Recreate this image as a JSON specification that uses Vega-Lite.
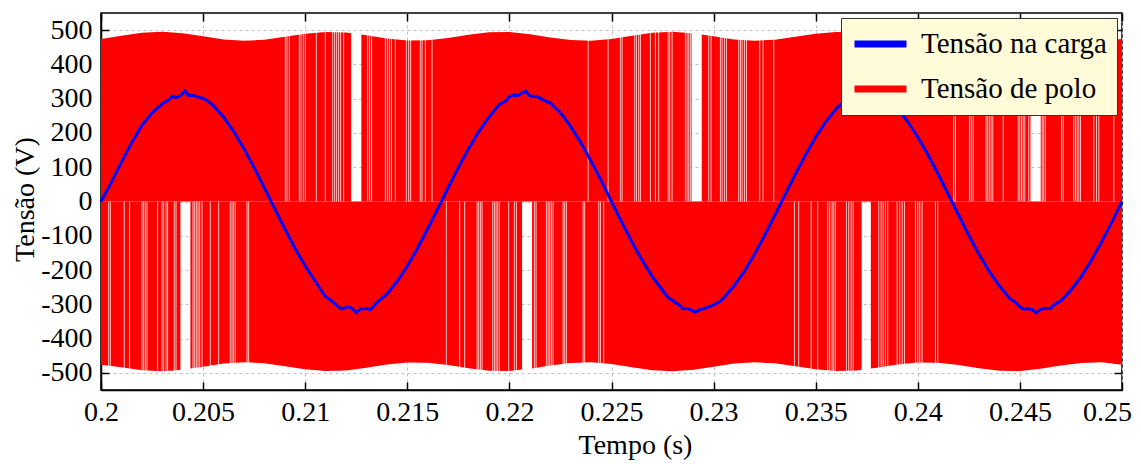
{
  "$schema": "https://vega.github.io/schema/vega-lite/v6.json",
  "width": 1021,
  "height": 377,
  "autosize": {"type": "none"},
  "padding": {"left": 101, "top": 13, "right": 19, "bottom": 74},
  "background": "white",
  "config": {
    "font": "Liberation Serif",
    "view": {"stroke": "black", "strokeWidth": 1.5},
    "axis": {
      "labelFont": "Liberation Serif", "titleFont": "Liberation Serif", "titleFontWeight": "normal",
      "labelFontSize": 28, "titleFontSize": 28, "labelColor": "black", "titleColor": "black",
      "domainColor": "black", "tickColor": "black", "domainWidth": 1.5, "tickWidth": 1.5,
      "gridDash": [3, 3], "gridColor": "#c0c0c0", "gridWidth": 1, "labelFlush": false, "labelOverlap": false
    }
  },
  "datasets": {
    "pole": [
      {"t":0.200,"v":474.5,"seg":"T1"},{"t":0.201,"v":483.8,"seg":"T1"},{"t":0.202,"v":492.1,"seg":"T1"},{"t":0.203,"v":495.0,"seg":"T1"},{"t":0.204,"v":490.8,"seg":"T1"},{"t":0.205,"v":481.8,"seg":"T1"},{"t":0.206,"v":473.0,"seg":"T1"},{"t":0.207,"v":469.0,"seg":"T1"},{"t":0.208,"v":472.1,"seg":"T1"},{"t":0.209,"v":480.5,"seg":"T1"},{"t":0.210,"v":489.8,"seg":"T1"},{"t":0.211,"v":494.8,"seg":"T1"},{"t":0.212,"v":492.9,"seg":"T1"},{"t":0.21225,"v":490.9,"seg":"T1"},
      {"t":0.21275,"v":487.0,"seg":"T2"},{"t":0.213,"v":485.1,"seg":"T2"},{"t":0.214,"v":475.6,"seg":"T2"},{"t":0.215,"v":469.6,"seg":"T2"},{"t":0.216,"v":470.3,"seg":"T2"},{"t":0.217,"v":477.4,"seg":"T2"},{"t":0.218,"v":486.9,"seg":"T2"},{"t":0.219,"v":493.8,"seg":"T2"},{"t":0.220,"v":494.3,"seg":"T2"},{"t":0.221,"v":488.1,"seg":"T2"},{"t":0.222,"v":478.6,"seg":"T2"},{"t":0.223,"v":470.9,"seg":"T2"},{"t":0.224,"v":469.3,"seg":"T2"},{"t":0.225,"v":474.5,"seg":"T2"},{"t":0.226,"v":483.8,"seg":"T2"},{"t":0.227,"v":492.1,"seg":"T2"},{"t":0.228,"v":495.0,"seg":"T2"},{"t":0.22892,"v":491.1,"seg":"T2"},
      {"t":0.22942,"v":487.0,"seg":"T3"},{"t":0.230,"v":481.8,"seg":"T3"},{"t":0.231,"v":473.0,"seg":"T3"},{"t":0.232,"v":469.0,"seg":"T3"},{"t":0.233,"v":472.1,"seg":"T3"},{"t":0.234,"v":480.5,"seg":"T3"},{"t":0.235,"v":489.8,"seg":"T3"},{"t":0.236,"v":494.8,"seg":"T3"},{"t":0.237,"v":492.9,"seg":"T3"},{"t":0.238,"v":485.1,"seg":"T3"},{"t":0.239,"v":475.6,"seg":"T3"},{"t":0.240,"v":469.6,"seg":"T3"},{"t":0.241,"v":470.3,"seg":"T3"},{"t":0.242,"v":477.4,"seg":"T3"},{"t":0.243,"v":486.9,"seg":"T3"},{"t":0.244,"v":493.8,"seg":"T3"},{"t":0.245,"v":494.3,"seg":"T3"},{"t":0.24552,"v":491.1,"seg":"T3"},
      {"t":0.24602,"v":487.7,"seg":"T4"},{"t":0.247,"v":478.6,"seg":"T4"},{"t":0.248,"v":470.9,"seg":"T4"},{"t":0.249,"v":469.3,"seg":"T4"},{"t":0.250,"v":474.5,"seg":"T4"},
      {"t":0.200,"v":-476.5,"seg":"B1"},{"t":0.201,"v":-483.8,"seg":"B1"},{"t":0.202,"v":-492.1,"seg":"B1"},{"t":0.203,"v":-495.0,"seg":"B1"},{"t":0.20389,"v":-491.3,"seg":"B1"},
      {"t":0.20438,"v":-487.4,"seg":"B2"},{"t":0.205,"v":-481.8,"seg":"B2"},{"t":0.206,"v":-473.0,"seg":"B2"},{"t":0.207,"v":-469.0,"seg":"B2"},{"t":0.208,"v":-472.1,"seg":"B2"},{"t":0.209,"v":-480.5,"seg":"B2"},{"t":0.210,"v":-489.8,"seg":"B2"},{"t":0.211,"v":-494.8,"seg":"B2"},{"t":0.212,"v":-492.9,"seg":"B2"},{"t":0.213,"v":-485.1,"seg":"B2"},{"t":0.214,"v":-475.6,"seg":"B2"},{"t":0.215,"v":-469.6,"seg":"B2"},{"t":0.216,"v":-470.3,"seg":"B2"},{"t":0.217,"v":-477.4,"seg":"B2"},{"t":0.218,"v":-486.9,"seg":"B2"},{"t":0.219,"v":-493.8,"seg":"B2"},{"t":0.220,"v":-494.3,"seg":"B2"},{"t":0.22062,"v":-490.5,"seg":"B2"},
      {"t":0.22111,"v":-487.1,"seg":"B3"},{"t":0.222,"v":-478.6,"seg":"B3"},{"t":0.223,"v":-470.9,"seg":"B3"},{"t":0.224,"v":-469.3,"seg":"B3"},{"t":0.225,"v":-474.5,"seg":"B3"},{"t":0.226,"v":-483.8,"seg":"B3"},{"t":0.227,"v":-492.1,"seg":"B3"},{"t":0.228,"v":-495.0,"seg":"B3"},{"t":0.229,"v":-490.8,"seg":"B3"},{"t":0.230,"v":-481.8,"seg":"B3"},{"t":0.231,"v":-473.0,"seg":"B3"},{"t":0.232,"v":-469.0,"seg":"B3"},{"t":0.233,"v":-472.1,"seg":"B3"},{"t":0.234,"v":-480.5,"seg":"B3"},{"t":0.235,"v":-489.8,"seg":"B3"},{"t":0.236,"v":-494.8,"seg":"B3"},{"t":0.237,"v":-492.9,"seg":"B3"},{"t":0.23725,"v":-490.9,"seg":"B3"},
      {"t":0.2377,"v":-487.4,"seg":"B4"},{"t":0.238,"v":-485.1,"seg":"B4"},{"t":0.239,"v":-475.6,"seg":"B4"},{"t":0.240,"v":-469.6,"seg":"B4"},{"t":0.241,"v":-470.3,"seg":"B4"},{"t":0.242,"v":-477.4,"seg":"B4"},{"t":0.243,"v":-486.9,"seg":"B4"},{"t":0.244,"v":-493.8,"seg":"B4"},{"t":0.245,"v":-494.3,"seg":"B4"},{"t":0.246,"v":-488.1,"seg":"B4"},{"t":0.247,"v":-478.6,"seg":"B4"},{"t":0.248,"v":-470.9,"seg":"B4"},{"t":0.249,"v":-469.3,"seg":"B4"},{"t":0.250,"v":-476.5,"seg":"B4"}
    ],
    "topLines": [
      {"t":0.209027},{"t":0.20911},{"t":0.209223},{"t":0.209713},{"t":0.209796},{"t":0.209909},{"t":0.210007},{"t":0.210546},{"t":0.210986},{"t":0.211344},{"t":0.211442},{"t":0.21154},{"t":0.211638},{"t":0.211736},{"t":0.211883},{"t":0.213058},{"t":0.213156},{"t":0.213254},{"t":0.213925},{"t":0.214023},{"t":0.214121},{"t":0.214219},{"t":0.214415},{"t":0.214954},{"t":0.215067},{"t":0.215165},{"t":0.21564},{"t":0.215723},{"t":0.215885},{"t":0.216213},
      {"t":0.223854},{"t":0.224833},{"t":0.225436},{"t":0.225519},{"t":0.226136},{"t":0.22622},{"t":0.226332},{"t":0.226416},{"t":0.226905},{"t":0.22715},{"t":0.227312},{"t":0.227772},{"t":0.227851},{"t":0.227968},{"t":0.22862},{"t":0.228703},{"t":0.228781},{"t":0.228865},{"t":0.229761},{"t":0.229878},{"t":0.230334},{"t":0.230417},{"t":0.23053},{"t":0.230628},{"t":0.23123},{"t":0.231314},{"t":0.231397},{"t":0.23151},{"t":0.231608},{"t":0.232259},{"t":0.232425},{"t":0.232945},
      {"t":0.241761},{"t":0.241844},{"t":0.24253},{"t":0.242613},{"t":0.242711},{"t":0.243348},{"t":0.243427},{"t":0.24351},{"t":0.243593},{"t":0.243672},{"t":0.244181},{"t":0.244916},{"t":0.244994},{"t":0.245077},{"t":0.245161},{"t":0.245239},{"t":0.245435},{"t":0.246091},{"t":0.246169},{"t":0.246253},{"t":0.247036},{"t":0.24712},{"t":0.247639},{"t":0.247722},{"t":0.247806},{"t":0.247884},{"t":0.247967},{"t":0.248619},{"t":0.248751},{"t":0.248864},{"t":0.249598}
    ],
    "botLines": [
      {"t":0.200372},{"t":0.200456},{"t":0.201141},{"t":0.201401},{"t":0.202008},{"t":0.202087},{"t":0.20217},{"t":0.202253},{"t":0.202772},{"t":0.202988},{"t":0.203066},{"t":0.203184},{"t":0.203262},{"t":0.20359},{"t":0.203674},{"t":0.204506},{"t":0.204585},{"t":0.204668},{"t":0.204751},{"t":0.20483},{"t":0.204947},{"t":0.205354},{"t":0.20576},{"t":0.206333},{"t":0.206417},{"t":0.206495},{"t":0.206578},{"t":0.207151},{"t":0.20723},
      {"t":0.216913},{"t":0.217565},{"t":0.21781},{"t":0.218417},{"t":0.218495},{"t":0.218579},{"t":0.218662},{"t":0.219181},{"t":0.219264},{"t":0.219347},{"t":0.219426},{"t":0.219509},{"t":0.219965},{"t":0.220244},{"t":0.220342},{"t":0.221224},{"t":0.221307},{"t":0.221811},{"t":0.221895},{"t":0.221973},{"t":0.222056},{"t":0.222139},{"t":0.222629},{"t":0.222708},{"t":0.222791},{"t":0.223609},{"t":0.223687},{"t":0.224373},{"t":0.224456},{"t":0.224618},
      {"t":0.233959},{"t":0.234169},{"t":0.234777},{"t":0.2351},{"t":0.23559},{"t":0.235688},{"t":0.235805},{"t":0.235884},{"t":0.235967},{"t":0.236506},{"t":0.236618},{"t":0.236736},{"t":0.236834},{"t":0.238088},{"t":0.238205},{"t":0.238303},{"t":0.238416},{"t":0.238529},{"t":0.238989},{"t":0.239116},{"t":0.239234},{"t":0.239346},{"t":0.239885},{"t":0.239998},{"t":0.240096},{"t":0.240213},{"t":0.240865},{"t":0.240977}
    ],
    "load": [
      {"t":0.2000,"v":0},{"t":0.2005,"v":55},{"t":0.2010,"v":115},{"t":0.2015,"v":171.5},{"t":0.2020,"v":222},{"t":0.2025,"v":258.9},{"t":0.2030,"v":285},{"t":0.2033,"v":296},{"t":0.2035,"v":307},{"t":0.2037,"v":303},{"t":0.2039,"v":309},{"t":0.2041,"v":323},{"t":0.2043,"v":309},{"t":0.2045,"v":310},{"t":0.2047,"v":306},{"t":0.2049,"v":302},{"t":0.2051,"v":298},{"t":0.2055,"v":280.4},{"t":0.2060,"v":246.6},{"t":0.2065,"v":204},{"t":0.2070,"v":154.2},{"t":0.2075,"v":98.9},{"t":0.2080,"v":40.1},{"t":0.2085,"v":-20.1},{"t":0.2090,"v":-79.6},{"t":0.2095,"v":-136.3},{"t":0.2100,"v":-188.1},{"t":0.2105,"v":-233.3},{"t":0.2110,"v":-278},{"t":0.2113,"v":-290},{"t":0.2116,"v":-306},{"t":0.2118,"v":-314},{"t":0.2121,"v":-307},{"t":0.2123,"v":-312},{"t":0.2125,"v":-324},{"t":0.2127,"v":-314},{"t":0.2130,"v":-312},{"t":0.2132,"v":-315},{"t":0.2135,"v":-295},{"t":0.2140,"v":-270.2},{"t":0.2145,"v":-233.3},{"t":0.2150,"v":-188.1},{"t":0.2155,"v":-136.3},{"t":0.2160,"v":-79.6},{"t":0.2165,"v":-20.1},{"t":0.2170,"v":40.1},{"t":0.2175,"v":98.9},{"t":0.2180,"v":154.2},{"t":0.2185,"v":204},{"t":0.2190,"v":246.6},{"t":0.2195,"v":283},{"t":0.2198,"v":292},{"t":0.2200,"v":306},{"t":0.2202,"v":311},{"t":0.2204,"v":309},{"t":0.2206,"v":316},{"t":0.2208,"v":322},{"t":0.2210,"v":308},{"t":0.2212,"v":307},{"t":0.2214,"v":305},{"t":0.2216,"v":298},{"t":0.2218,"v":292},{"t":0.2220,"v":288},{"t":0.2225,"v":258.9},{"t":0.2230,"v":219},{"t":0.2235,"v":171.5},{"t":0.2240,"v":117.8},{"t":0.2245,"v":60},{"t":0.2250,"v":0},{"t":0.2255,"v":-60},{"t":0.2260,"v":-117.8},{"t":0.2265,"v":-171.5},{"t":0.2270,"v":-219},{"t":0.2275,"v":-258.9},{"t":0.2278,"v":-282},{"t":0.2280,"v":-289},{"t":0.2283,"v":-302},{"t":0.2285,"v":-313},{"t":0.2287,"v":-312},{"t":0.2289,"v":-316},{"t":0.2291,"v":-324},{"t":0.2293,"v":-316},{"t":0.2295,"v":-313},{"t":0.2297,"v":-309},{"t":0.2300,"v":-302},{"t":0.2303,"v":-292},{"t":0.2305,"v":-280.4},{"t":0.2310,"v":-246.6},{"t":0.2315,"v":-204},{"t":0.2320,"v":-154.2},{"t":0.2325,"v":-98.9},{"t":0.2330,"v":-40.1},{"t":0.2335,"v":20.1},{"t":0.2340,"v":79.6},{"t":0.2345,"v":136.3},{"t":0.2350,"v":188.1},{"t":0.2355,"v":233.3},{"t":0.2360,"v":270.2},{"t":0.2365,"v":297.5},{"t":0.2367,"v":303},{"t":0.2369,"v":309},{"t":0.2371,"v":316},{"t":0.2373,"v":312},{"t":0.2375,"v":321},{"t":0.2377,"v":310},{"t":0.2379,"v":313},{"t":0.2381,"v":305},{"t":0.2385,"v":297.5},{"t":0.2390,"v":270.2},{"t":0.2395,"v":233.3},{"t":0.2400,"v":188.1},{"t":0.2405,"v":136.3},{"t":0.2410,"v":79.6},{"t":0.2415,"v":20.1},{"t":0.2420,"v":-40.1},{"t":0.2425,"v":-98.9},{"t":0.2430,"v":-154.2},{"t":0.2435,"v":-204},{"t":0.2440,"v":-246.6},{"t":0.2445,"v":-283},{"t":0.2448,"v":-295},{"t":0.2450,"v":-308},{"t":0.2452,"v":-314},{"t":0.2454,"v":-312},{"t":0.2456,"v":-316},{"t":0.2458,"v":-325},{"t":0.2460,"v":-315},{"t":0.2462,"v":-312},{"t":0.2465,"v":-312},{"t":0.2467,"v":-300},{"t":0.2470,"v":-290},{"t":0.2475,"v":-258.9},{"t":0.2480,"v":-219},{"t":0.2485,"v":-171.5},{"t":0.2490,"v":-117.8},{"t":0.2495,"v":-60},{"t":0.2500,"v":0}
    ]
  },
  "resolve": {"axis": {"x": "independent", "y": "independent"}},
  "layer": [
    {
      "data": {"name": "pole"},
      "mark": {"type": "area", "color": "#FF0000", "interpolate": "linear"},
      "encoding": {
        "x": {"field": "t", "type": "quantitative",
          "scale": {"domain": [0.2, 0.25], "nice": false, "zero": false},
          "axis": {"orient": "bottom", "values": [0.2,0.205,0.21,0.215,0.22,0.225,0.23,0.235,0.24,0.245,0.25],
            "labelExpr": "'' + datum.value", "tickSize": -8, "labelPadding": 16, "grid": true,
            "labelOffset": {"condition": {"test": "datum.value > 0.2499", "value": -15}, "value": 0},
            "title": "Tempo (s)", "titleX": 534, "titleY": 63, "titleBaseline": "alphabetic", "titleAlign": "center"}},
        "y": {"field": "v", "type": "quantitative",
          "scale": {"domain": [-550, 550], "nice": false},
          "axis": {"orient": "left", "values": [-500,-400,-300,-200,-100,0,100,200,300,400,500],
            "labelExpr": "'' + datum.value", "tickSize": -8, "labelPadding": 17, "grid": true,
            "title": "Tensão (V)", "titleX": -68, "titleY": 186, "titleAngle": -90, "titleBaseline": "alphabetic", "titleAlign": "center"}},
        "y2": {"datum": 0},
        "detail": {"field": "seg", "type": "nominal"}
      }
    },
    {
      "data": {"name": "topLines"},
      "mark": {"type": "rule", "color": "white", "opacity": 0.75, "strokeWidth": 1},
      "encoding": {
        "x": {"field": "t", "type": "quantitative", "axis": null},
        "y": {"datum": 0, "type": "quantitative", "axis": null},
        "y2": {"datum": 497}
      }
    },
    {
      "data": {"name": "botLines"},
      "mark": {"type": "rule", "color": "white", "opacity": 0.75, "strokeWidth": 1},
      "encoding": {
        "x": {"field": "t", "type": "quantitative", "axis": null},
        "y": {"datum": 0, "type": "quantitative", "axis": null},
        "y2": {"datum": -497}
      }
    },
    {
      "data": {"name": "load"},
      "mark": {"type": "line", "strokeWidth": 3, "interpolate": "linear"},
      "encoding": {
        "x": {"field": "t", "type": "quantitative",
          "axis": {"orient": "top", "values": [0.2,0.205,0.21,0.215,0.22,0.225,0.23,0.235,0.24,0.245,0.25],
            "labels": false, "grid": false, "domain": false, "title": null, "tickSize": -8}},
        "y": {"field": "v", "type": "quantitative",
          "axis": {"orient": "right", "values": [-500,-400,-300,-200,-100,0,100,200,300,400,500],
            "labels": false, "grid": false, "domain": false, "title": null, "tickSize": -8}},
        "color": {"datum": "Tensão na carga", "type": "nominal",
          "scale": {"domain": ["Tensão na carga", "Tensão de polo"], "range": ["#0000FF", "#FF0000"]},
          "legend": {"orient": "top-right", "offset": 5, "title": null, "symbolType": "stroke",
            "symbolSize": 2704, "symbolStrokeWidth": 7, "labelFontSize": 29, "labelFont": "Liberation Serif",
            "labelColor": "black", "labelLimit": 400, "labelOffset": 11, "padding": 10, "rowPadding": 13,
            "clipHeight": 32, "fillColor": "#FFFAD8", "strokeColor": "#333333"}}
      }
    }
  ]
}
